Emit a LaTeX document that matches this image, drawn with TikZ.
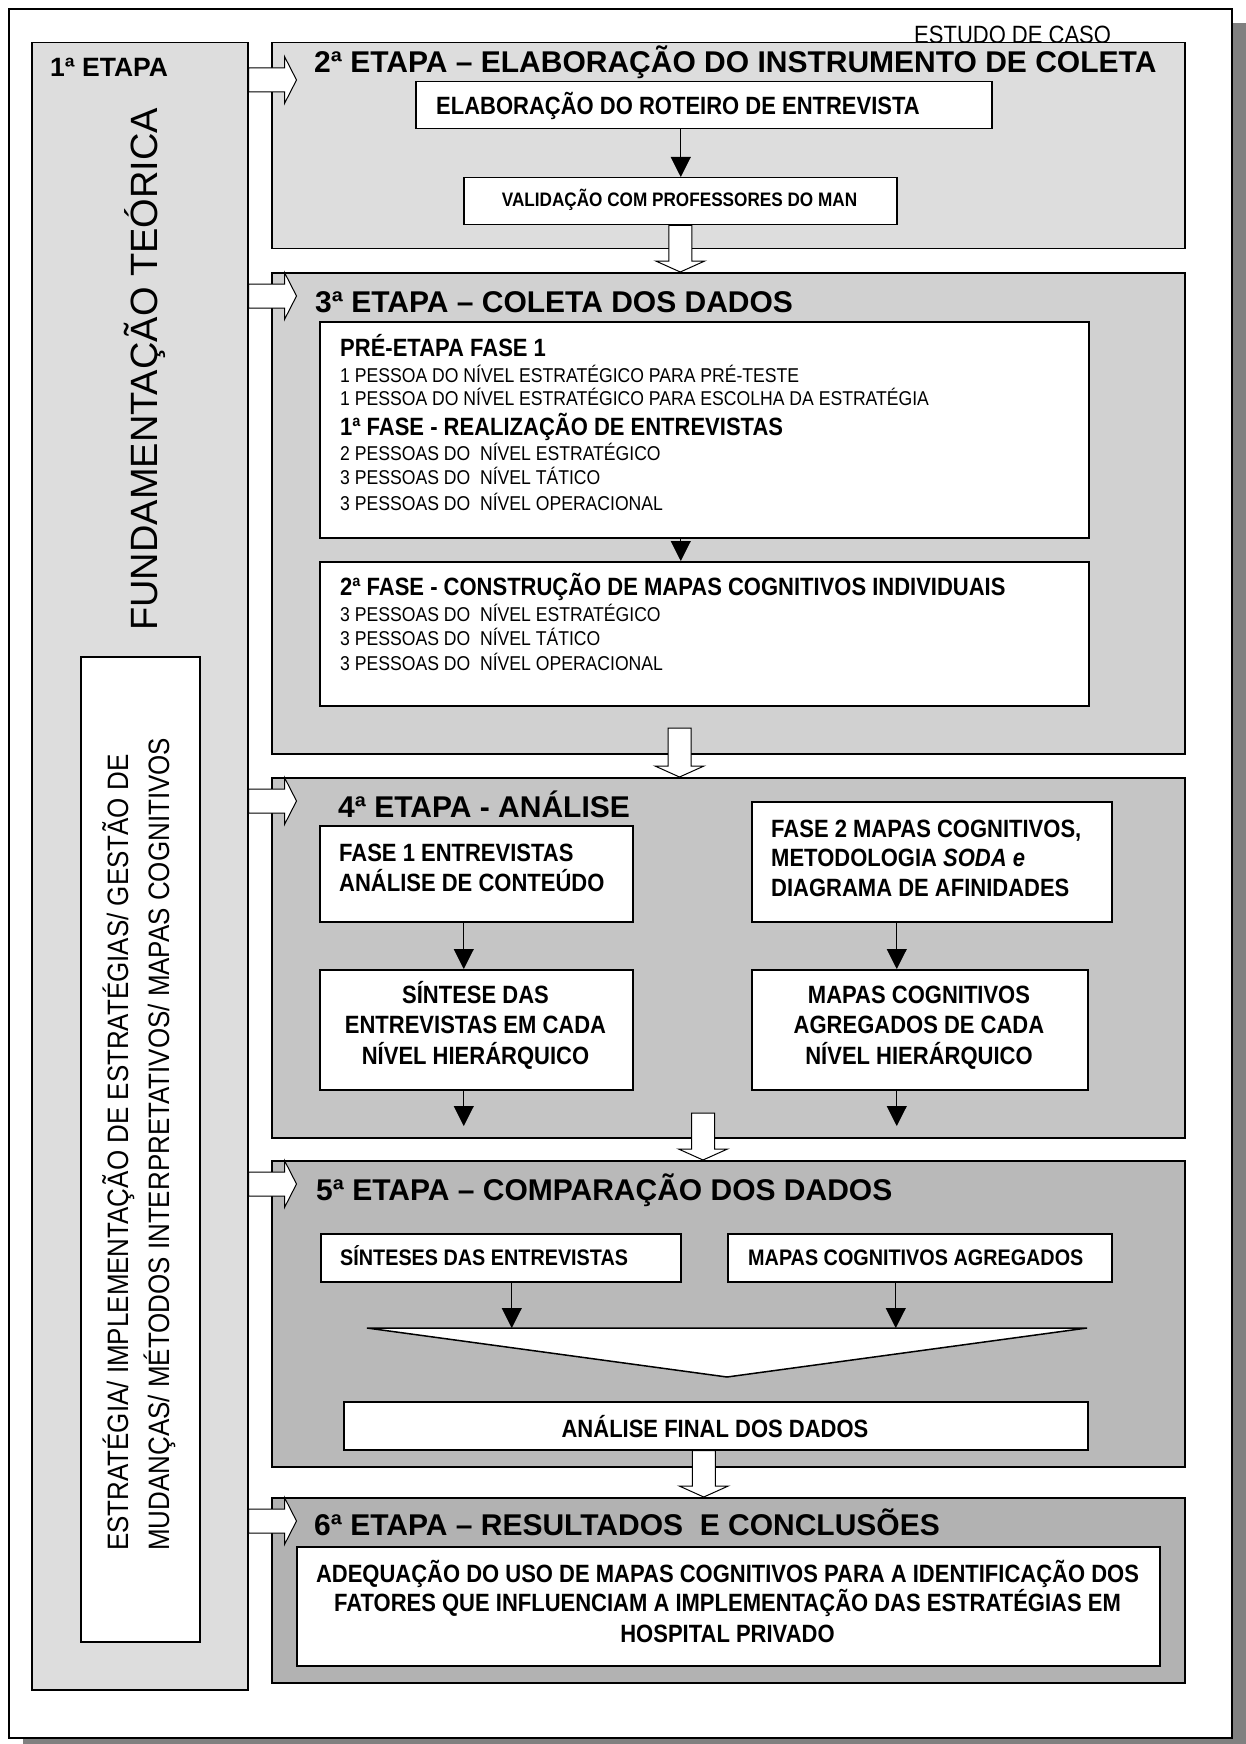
\documentclass[tikz,border=0pt]{standalone}
\usepackage{fontspec}
\setmainfont{Liberation Sans}
\newfontfamily\nar{Liberation Sans}[FakeStretch=0.88]
\usetikzlibrary{arrows.meta,calc}
\definecolor{gA}{HTML}{DDDDDD}
\definecolor{gB}{HTML}{D1D1D1}
\definecolor{gC}{HTML}{C5C5C5}
\definecolor{gD}{HTML}{B9B9B9}
\definecolor{gE}{HTML}{B2B2B2}
\definecolor{shd}{HTML}{808080}
\newcommand\mkbox[6]{\node[#2, minimum width={(#5-#3)*1pt}, minimum height={(#6-#4)*1pt}] (#1) at (#3,#4) {};}
\newcommand\blockdown[2]{\filldraw[blk] let \p1=#1, \p2=#2 in (\x1-11.5pt,\y1) -- (\x1-11.5pt,\y2+11pt) -- (\x1-24.5pt,\y2+11pt) -- (\x1,\y2) -- (\x1+24.5pt,\y2+11pt) -- (\x1+11.5pt,\y2+11pt) -- (\x1+11.5pt,\y1) -- cycle;}
\newcommand\blockright[2]{\filldraw[blk] let \p1=#1, \p2=#2 in (\x1,\y2+12pt) -- (\x1+36pt,\y2+12pt) -- (\x1+36pt,\y2+23.5pt) -- (\x1+48pt,\y2) -- (\x1+36pt,\y2-23.5pt) -- (\x1+36pt,\y2-12pt) -- (\x1,\y2-12pt) -- cycle;}
\newcommand\varr[2]{\draw[arr] let \p1=#1, \p2=#2 in (\p1) -- (\x1,\y2);}
\begin{document}
\begin{tikzpicture}[x=1pt,y=-1pt,
  box/.style={draw=black, line width=1.5pt, inner sep=0pt, anchor=north west},
  wbox/.style={box, fill=white},
  ttl/.style={font=\fontsize{30}{36}\selectfont\bfseries, anchor=base west, inner sep=0pt},
  hd/.style={font=\nar\bfseries\fontsize{25}{30}\selectfont, anchor=base west, inner sep=0pt},
  hdc/.style={hd, anchor=base},
  li/.style={font=\nar\fontsize{20}{24}\selectfont, anchor=base west, inner sep=0pt},
  arr/.style={line width=1pt, -{Triangle[length=20pt,width=20pt]}},
  blk/.style={draw=black, fill=white, line width=1pt}]
\useasboundingbox (0,0) rectangle (1246,1744);
% frame with shadow
\fill[shd] (23,23) rectangle (1246,1744);
\mkbox{frame}{box, fill=white, line width=2pt}{8}{8}{1231}{1737}
\node[li, font=\nar\fontsize{25}{30}\selectfont] (caso) at (914,44) {ESTUDO DE CASO};
% left column
\mkbox{lc}{box, fill=gA}{31}{42}{247}{1689}
\mkbox{lw}{wbox}{80}{656}{199}{1641}
% stage boxes
\mkbox{s2}{box, fill=gA}{271}{42}{1184}{248}
\mkbox{s3}{box, fill=gB}{271}{272}{1184}{753}
\mkbox{s4}{box, fill=gC}{271}{777}{1184}{1137}
\mkbox{s5}{box, fill=gD}{271}{1160}{1184}{1466}
\mkbox{s6}{box, fill=gE}{271}{1497}{1184}{1682}
% side arrows
\blockright{(lc.east)}{([yshift=-38pt]s2.north west)}
\blockright{(lc.east)}{([yshift=-24pt]s3.north west)}
\blockright{(lc.east)}{([yshift=-24pt]s4.north west)}
\blockright{(lc.east)}{([yshift=-24pt]s5.north west)}
\blockright{(lc.east)}{([yshift=-24pt]s6.north west)}
% inner boxes
\mkbox{el}{wbox}{415}{81}{991}{128}
\mkbox{va}{wbox}{463}{177}{896}{224}
\mkbox{c1}{wbox}{319}{321}{1088}{537}
\mkbox{c2}{wbox}{319}{561}{1088}{705}
\mkbox{f1}{wbox}{319}{825}{632}{921}
\mkbox{f2}{wbox}{751}{801}{1111}{921}
\mkbox{y1}{wbox}{319}{969}{632}{1089}
\mkbox{y2}{wbox}{751}{969}{1087}{1089}
\mkbox{se}{wbox}{320}{1233}{680}{1281}
\mkbox{mc}{wbox}{727}{1233}{1111}{1281}
\mkbox{af}{wbox}{343}{1401}{1087}{1449}
\mkbox{r6}{wbox}{296}{1546}{1159}{1665}
% funnel
\coordinate (ftl) at (367,1328);
\coordinate (ftr) at (1087,1328);
\coordinate (fb) at (727,1377);
\filldraw[fill=white, draw=black, line width=1.5pt] (ftl) -- (ftr) -- (fb) -- cycle;
% free ends
\coordinate (e1) at (463,1126);
\coordinate (e2) at (896,1126);
\coordinate (c34) at (679.5,728);
\coordinate (c45) at (703,1113);
% thin arrows
\varr{([xshift=-23pt]el.south)}{(va.north)}
\varr{([xshift=-23.5pt]c1.south)}{(c2.north)}
\varr{([xshift=-12.5pt]f1.south)}{(y1.north)}
\varr{([xshift=-35pt]f2.south)}{(y2.north)}
\varr{([xshift=-12.5pt]y1.south)}{(e1)}
\varr{([xshift=-23pt]y2.south)}{(e2)}
\varr{([xshift=11pt]se.south)}{(ftl)}
\varr{([xshift=-24pt]mc.south)}{(ftr)}
% block arrows down
\blockdown{(va.south)}{(s3.north)}
\blockdown{(c34)}{(s4.north)}
\blockdown{(c45)}{(s5.north)}
\blockdown{([xshift=-12pt]af.south)}{(s6.north)}
% texts left column
\node[ttl, font=\fontsize{26.5}{30}\selectfont\bfseries] (t1) at (50,77) {1ª ETAPA};
\node[rotate=90, anchor=base west, inner sep=0pt, font=\fontsize{38}{42}\selectfont] (fund) at (157,631) {FUNDAMENTAÇÃO TEÓRICA};
\node[rotate=90, anchor=base west, inner sep=0pt, font=\nar\fontsize{29.5}{34}\selectfont] (lwa) at (128,1551) {ESTRATÉGIA/ IMPLEMENTAÇÃO DE ESTRATÉGIAS/ GESTÃO DE};
\node[rotate=90, anchor=base west, inner sep=0pt, font=\nar\fontsize{29.5}{34}\selectfont] (lwb) at (169,1551) {MUDANÇAS/ MÉTODOS INTERPRETATIVOS/ MAPAS COGNITIVOS};
% titles
\node[ttl] (t2) at (314,73) {2ª ETAPA – ELABORAÇÃO DO INSTRUMENTO DE COLETA};
\node[ttl] (t3) at (315,312) {3ª ETAPA – COLETA DOS DADOS};
\node[ttl] (t4) at (338,817) {4ª ETAPA - ANÁLISE};
\node[ttl] (t5) at (316,1200) {5ª ETAPA – COMPARAÇÃO DOS DADOS};
\node[ttl] (t6) at (314,1535) {6ª ETAPA – RESULTADOS\ \ E CONCLUSÕES};
% stage 2
\node[hd] (elt) at (436,115) {ELABORAÇÃO DO ROTEIRO DE ENTREVISTA};
\node[hd, anchor=base, font=\nar\bfseries\fontsize{19.5}{24}\selectfont] (vat) at (679.5,207) {VALIDAÇÃO COM PROFESSORES DO MAN};
% stage 3
\node[hd] (c1a) at (340,356) {PRÉ-ETAPA FASE 1};
\node[li] (c1b) at (340,382) {1 PESSOA DO NÍVEL ESTRATÉGICO PARA PRÉ-TESTE};
\node[li] (c1c) at (340,405) {1 PESSOA DO NÍVEL ESTRATÉGICO PARA ESCOLHA DA ESTRATÉGIA};
\node[hd] (c1d) at (340,435) {1ª FASE - REALIZAÇÃO DE ENTREVISTAS};
\node[li] (c1e) at (340,460) {2 PESSOAS DO\ \ NÍVEL ESTRATÉGICO};
\node[li] (c1f) at (340,484) {3 PESSOAS DO\ \ NÍVEL TÁTICO};
\node[li] (c1g) at (340,510) {3 PESSOAS DO\ \ NÍVEL OPERACIONAL};
\node[hd] (c2a) at (340,595) {2ª FASE - CONSTRUÇÃO DE MAPAS COGNITIVOS INDIVIDUAIS};
\node[li] (c2b) at (340,621) {3 PESSOAS DO\ \ NÍVEL ESTRATÉGICO};
\node[li] (c2c) at (340,645) {3 PESSOAS DO\ \ NÍVEL TÁTICO};
\node[li] (c2d) at (340,670) {3 PESSOAS DO\ \ NÍVEL OPERACIONAL};
% stage 4
\node[hd] (f1a) at (339,861) {FASE 1 ENTREVISTAS};
\node[hd] (f1b) at (339,891) {ANÁLISE DE CONTEÚDO};
\node[hd] (f2a) at (771,837) {FASE 2 MAPAS COGNITIVOS,};
\node[hd] (f2b) at (771,866) {METODOLOGIA \textit{SODA e}};
\node[hd] (f2c) at (771,896) {DIAGRAMA DE AFINIDADES};
\node[hdc] (y1a) at (475.5,1003) {SÍNTESE DAS};
\node[hdc] (y1b) at (475.5,1033) {ENTREVISTAS EM CADA};
\node[hdc] (y1c) at (475.5,1064) {NÍVEL HIERÁRQUICO};
\node[hdc] (y2a) at (919,1003) {MAPAS COGNITIVOS};
\node[hdc] (y2b) at (919,1033) {AGREGADOS DE CADA};
\node[hdc] (y2c) at (919,1064) {NÍVEL HIERÁRQUICO};
% stage 5
\node[hd, font=\nar\bfseries\fontsize{22.5}{27}\selectfont] (set) at (340,1265) {SÍNTESES DAS ENTREVISTAS};
\node[hd, font=\nar\bfseries\fontsize{22.5}{27}\selectfont] (mct) at (748,1265) {MAPAS COGNITIVOS AGREGADOS};
\node[hdc] (aft) at (715,1437) {ANÁLISE FINAL DOS DADOS};
% stage 6
\node[hdc] (r6a) at (727.5,1582) {ADEQUAÇÃO DO USO DE MAPAS COGNITIVOS PARA A IDENTIFICAÇÃO DOS};
\node[hdc] (r6b) at (727.5,1611) {FATORES QUE INFLUENCIAM A IMPLEMENTAÇÃO DAS ESTRATÉGIAS EM};
\node[hdc] (r6c) at (727.5,1642) {HOSPITAL PRIVADO};
\end{tikzpicture}
\end{document}
